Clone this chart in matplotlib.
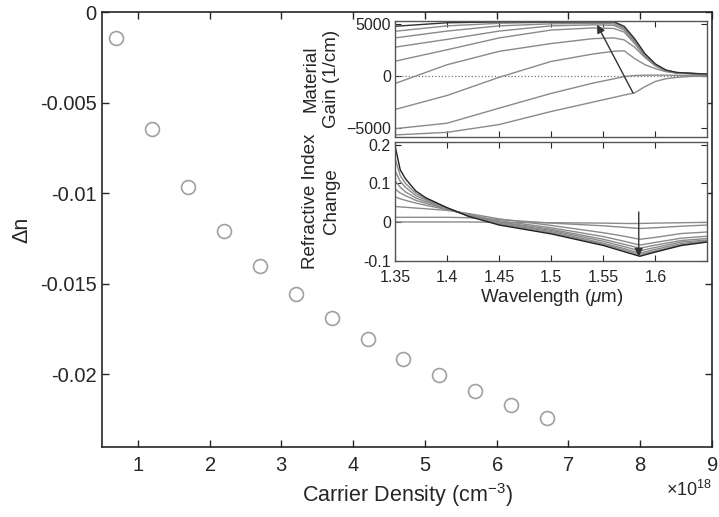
import matplotlib
matplotlib.use("Agg")
import matplotlib.pyplot as plt
import numpy as np

plt.rcParams['font.family'] = ['Liberation Sans', 'DejaVu Sans']
plt.rcParams['mathtext.fontset'] = 'custom'
plt.rcParams['mathtext.rm'] = 'Liberation Sans'
plt.rcParams['mathtext.it'] = 'Liberation Sans:italic'
plt.rcParams['text.color'] = '#262626'
plt.rcParams['axes.labelcolor'] = '#262626'
plt.rcParams['xtick.color'] = '#262626'
plt.rcParams['ytick.color'] = '#262626'

# main data: index change vs carrier density
carrier = np.array([0.7, 1.2, 1.7, 2.2, 2.7, 3.2, 3.7, 4.2, 4.7, 5.2, 5.7, 6.2, 6.7]) * 1e18
delta_n = [-0.00144, -0.00643, -0.00967, -0.01207, -0.01399, -0.01554, -0.01691,
           -0.01807, -0.01913, -0.02005, -0.0209, -0.02172, -0.02242]

# inset top: material gain (1/cm), one row per carrier density
wl_gain = [1.35, 1.40, 1.45, 1.50, 1.54, 1.56, 1.57, 1.58, 1.59, 1.60, 1.61, 1.62, 1.635, 1.65]
gain = [
    [-5700, -5450, -4700, -3440, -2540, -2090, -1860, -1650, -1050, -550, -290, -160, -60, -30],
    [-5100, -4570, -3120, -1700, -710, -300, -80, 20, 50, 60, 50, 40, 30, 20],
    [-3250, -1900, -150, 1380, 2090, 2350, 2400, 1650, 1060, 680, 390, 260, 190, 150],
    [-750, 1060, 2350, 3100, 3570, 3640, 3450, 2750, 1750, 950, 480, 290, 200, 150],
    [1400, 2500, 3640, 4400, 4600, 4550, 4200, 3100, 1850, 950, 480, 290, 200, 150],
    [2750, 3500, 4300, 4800, 4900, 4850, 4400, 3250, 1950, 1000, 500, 300, 210, 160],
    [3640, 4300, 4800, 5000, 5050, 5000, 4550, 3350, 2000, 1050, 520, 300, 215, 160],
    [4280, 4800, 5050, 5150, 5150, 5150, 4650, 3450, 2050, 1080, 530, 310, 220, 160],
    [4760, 5100, 5180, 5180, 5200, 5200, 4760, 3570, 2120, 1130, 550, 320, 230, 160],
]

# inset bottom: refractive index change
wl_index = [1.35, 1.355, 1.36, 1.37, 1.38, 1.40, 1.42, 1.45, 1.50, 1.55, 1.57, 1.585, 1.60, 1.625, 1.65]
index_change = [
    [0.0, 0.0, 0.0, 0.0, 0.0, 0.0, 0.0, -0.001, -0.002, -0.003, -0.004, -0.004, -0.003, -0.002, -0.001],
    [0.012, 0.012, 0.012, 0.012, 0.012, 0.012, 0.011, 0.006, -0.003, -0.010, -0.014, -0.017, -0.015, -0.011, -0.008],
    [0.040, 0.039, 0.038, 0.036, 0.034, 0.030, 0.022, 0.008, -0.009, -0.028, -0.037, -0.045, -0.040, -0.030, -0.026],
    [0.065, 0.060, 0.056, 0.049, 0.043, 0.032, 0.020, 0.003, -0.015, -0.038, -0.050, -0.060, -0.053, -0.042, -0.037],
    [0.086, 0.075, 0.068, 0.056, 0.048, 0.033, 0.019, 0.000, -0.019, -0.045, -0.058, -0.068, -0.060, -0.048, -0.043],
    [0.107, 0.090, 0.078, 0.062, 0.052, 0.034, 0.018, -0.002, -0.022, -0.050, -0.064, -0.075, -0.066, -0.052, -0.047],
    [0.133, 0.105, 0.090, 0.068, 0.056, 0.035, 0.017, -0.004, -0.025, -0.055, -0.069, -0.081, -0.071, -0.056, -0.049],
    [0.165, 0.120, 0.100, 0.074, 0.059, 0.036, 0.016, -0.006, -0.028, -0.058, -0.073, -0.085, -0.075, -0.059, -0.051],
    [0.198, 0.135, 0.112, 0.080, 0.062, 0.037, 0.015, -0.008, -0.031, -0.061, -0.077, -0.089, -0.078, -0.061, -0.052],
]

fig = plt.figure(figsize=(7.19, 5.17), dpi=100)

# ---- main axes
ax = fig.add_axes([0.1419, 0.136, 0.8484, 0.8402])
ax.plot(carrier, delta_n, 'o', mfc='none', mec='#a0a0a0', mew=1.2, ms=10)
ax.set_xlim(0.5e18, 9e18)
ax.set_ylim(-0.024, 0)
ax.set_xticks(np.arange(1, 10) * 1e18)
ax.set_yticks([0, -0.005, -0.01, -0.015, -0.02])
ax.set_yticklabels(['0', '-0.005', '-0.01', '-0.015', '-0.02'])
ax.ticklabel_format(axis='x', style='sci', scilimits=(0, 0), useMathText=True)
ax.xaxis.get_offset_text().set_fontsize(13)
ax.tick_params(direction='in', top=True, right=True, length=5, width=1, labelsize=14.5)
ax.tick_params(axis='x', pad=7)
ax.tick_params(axis='y', pad=4)
for s in ax.spines.values():
    s.set_linewidth(1.2)
    s.set_color('#262626')
ax.set_xlabel('Carrier Density (cm$^{-3}$)', fontsize=15.5, labelpad=4)
ax.set_ylabel('Δn', fontsize=15.5, labelpad=5)

# ---- inset: gain
ax1 = fig.add_axes([0.5494, 0.7356, 0.4346, 0.2244])
ax1.axhline(0, color='#777777', ls=':', lw=0.9)
for i, g in enumerate(gain):
    col = '#303030' if i == len(gain) - 1 else '#8a8a8a'
    ax1.plot(wl_gain, g, color=col, lw=1.0)
ax1.annotate('', xy=(1.544, 4920), xytext=(1.5786, -1670),
             arrowprops=dict(arrowstyle='-|>', color='#333333', lw=1.0,
                             mutation_scale=12, shrinkA=0, shrinkB=0))
ax1.set_xlim(1.35, 1.65)
ax1.set_ylim(-5870, 5300)
ax1.set_yticks([-5000, 0, 5000])
ax1.set_xticks([1.35, 1.4, 1.45, 1.5, 1.55, 1.6])
ax1.set_xticklabels([])
ax1.set_ylabel('Material\nGain (1/cm)', fontsize=13.5, linespacing=1.3)

# ---- inset: refractive index change
ax2 = fig.add_axes([0.5494, 0.4961, 0.4346, 0.2298])
for i, d in enumerate(index_change):
    col = '#202020' if i == len(index_change) - 1 else '#8a8a8a'
    ax2.plot(wl_index, d, color=col, lw=1.0)
ax2.annotate('', xy=(1.584, -0.09), xytext=(1.584, 0.026),
             arrowprops=dict(arrowstyle='-|>', color='#333333', lw=1.0,
                             mutation_scale=12, shrinkA=0, shrinkB=0))
ax2.set_xlim(1.35, 1.65)
ax2.set_ylim(-0.1, 0.208)
ax2.set_yticks([-0.1, 0, 0.1, 0.2])
ax2.set_yticklabels(['-0.1', '0', '0.1', '0.2'])
ax2.set_xticks([1.35, 1.4, 1.45, 1.5, 1.55, 1.6])
ax2.set_xticklabels(['1.35', '1.4', '1.45', '1.5', '1.55', '1.6'])
ax2.set_xlabel(r'Wavelength ($\mu$m)', fontsize=13.5, labelpad=1)
ax2.set_ylabel('Refractive Index\nChange', fontsize=13.5, linespacing=1.3)

for a in (ax1, ax2):
    a.tick_params(direction='in', top=True, right=True, length=4, width=0.8, labelsize=11.5)
    a.tick_params(axis='y', pad=3)
    a.tick_params(axis='x', pad=7)
    a.yaxis.set_label_coords(-0.175, 0.5)
    for s in a.spines.values():
        s.set_linewidth(1.0)
        s.set_color('#555555')

fig.savefig('out.png', dpi=100)
